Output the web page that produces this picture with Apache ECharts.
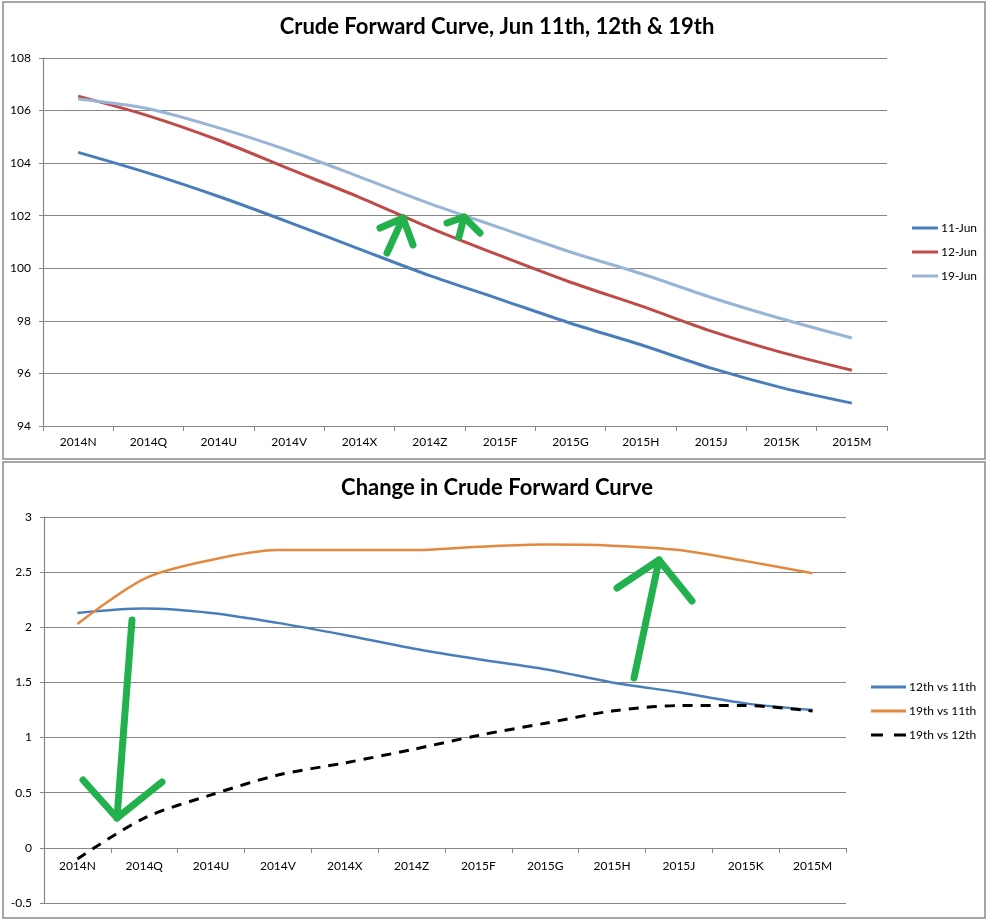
<!DOCTYPE html>
<html><head><meta charset="utf-8">
<script src="https://cdn.jsdelivr.net/npm/echarts@6/dist/echarts.min.js"></script>
<style>html,body{margin:0;padding:0;background:#fff}#c{width:990px;height:922px}</style>
</head><body><div id="c"></div>
<script>
var categories = ['2014N','2014Q','2014U','2014V','2014X','2014Z','2015F','2015G','2015H','2015J','2015K','2015M'];
var jun11 = [104.41,103.62,102.73,101.75,100.73,99.72,98.82,97.91,97.09,96.20,95.46,94.87];
var jun12 = [106.55,105.80,104.87,103.78,102.70,101.54,100.48,99.47,98.57,97.61,96.80,96.12];
var jun19 = [106.44,106.07,105.34,104.47,103.48,102.46,101.54,100.62,99.80,98.89,98.08,97.35];
var d12vs11 = [2.13,2.17,2.13,2.04,1.93,1.81,1.71,1.62,1.50,1.41,1.31,1.25];
var d19vs11 = [2.03,2.44,2.61,2.70,2.70,2.70,2.73,2.75,2.74,2.70,2.60,2.49];
var d19vs12 = [-0.10,0.27,0.48,0.66,0.77,0.89,1.02,1.13,1.24,1.29,1.29,1.24];
var topTicks = {min:94, max:108, interval:2};
var botTicks = {min:-0.5, max:3, interval:0.5};

var FONT = 'Lato';
var axisGrey = '#868686';
var labelStyle = {color:'#000', fontFamily:FONT, fontSize:12};

function xAx(gi, margin, offset){
  return {type:'category', gridIndex:gi, data:categories, boundaryGap:true,
    position:'bottom', offset:offset,
    axisLine:{show:true, onZero:false, lineStyle:{color:axisGrey, width:1.2}},
    axisTick:{show:true, length:5, inside:false, lineStyle:{color:axisGrey}},
    axisLabel:Object.assign({margin:margin, interval:0}, labelStyle),
    splitLine:{show:false}};
}
function yAx(gi, t){
  return {type:'value', gridIndex:gi, min:t.min, max:t.max, interval:t.interval,
    axisLine:{show:true, lineStyle:{color:axisGrey, width:1.2}},
    axisTick:{show:true, length:4, lineStyle:{color:axisGrey}},
    axisLabel:Object.assign({margin:12}, labelStyle),
    splitLine:{show:true, lineStyle:{color:axisGrey, width:1.2}}};
}
function ln(name, data, color, gi, width, type){
  return {name:name, type:'line', xAxisIndex:gi, yAxisIndex:gi, data:data,
    smooth:0.3, symbol:'none', animation:false,
    lineStyle:{color:color, width:width, type:type||'solid', dashOffset:0},
    itemStyle:{color:color}};
}
var green = '#22B14C';
function arrow(pts){
  return {type:'polyline', shape:{points:pts}, z:100,
    style:{stroke:green, lineWidth:7, fill:null, lineCap:'round', lineJoin:'round'}};
}
var solidIcon = 'rect';
var dashIcon = 'path://M0,0H12V3H0ZM23,0H35V3H23Z';

var chart = echarts.init(document.getElementById('c'), null, {renderer:'canvas'});
chart.setOption({
  animation:false,
  backgroundColor:'#fff',
  title:[
    {text:'Crude Forward Curve, Jun 11th, 12th & 19th', left:492, textAlign:'center', top:11,
     textStyle:{fontFamily:FONT, fontWeight:'bold', fontSize:22, color:'#000'}},
    {text:'Change in Crude Forward Curve', left:492, textAlign:'center', top:472,
     textStyle:{fontFamily:FONT, fontWeight:'bold', fontSize:22, color:'#000'}}
  ],
  legend:[
    {orient:'vertical', left:907, top:217, itemWidth:26, itemHeight:3, itemGap:12, symbolKeepAspect:false,
     data:[{name:'11-Jun', icon:solidIcon},{name:'12-Jun', icon:solidIcon},{name:'19-Jun', icon:solidIcon}],
     textStyle:{fontFamily:FONT, fontSize:12, color:'#000', padding:[0,0,0,-2]}},
    {orient:'vertical', left:866, top:676, itemWidth:35, itemHeight:3, itemGap:12, symbolKeepAspect:false,
     data:[{name:'12th vs 11th', icon:solidIcon},{name:'19th vs 11th', icon:solidIcon},{name:'19th vs 12th', icon:dashIcon}],
     textStyle:{fontFamily:FONT, fontSize:12, color:'#000', padding:[0,0,0,-2]}}
  ],
  grid:[
    {left:43, right:103, top:58, height:368, containLabel:false},
    {left:44, right:144, top:517, height:386, containLabel:false}
  ],
  xAxis:[xAx(0, 10, 0), xAx(1, 12, -386*0.5/3.5)],
  yAxis:[yAx(0, topTicks), yAx(1, botTicks)],
  series:[
    ln('11-Jun', jun11, '#4A7EBB', 0, 3),
    ln('12-Jun', jun12, '#BE4B48', 0, 3),
    ln('19-Jun', jun19, '#98B4D6', 0, 3),
    ln('12th vs 11th', d12vs11, '#4A7EBB', 1, 2.5),
    ln('19th vs 11th', d19vs11, '#E3893F', 1, 2.5),
    ln('19th vs 12th', d19vs12, '#000000', 1, 3, [10,8])
  ],
  graphic:[
    {type:'rect', shape:{x:3, y:2, width:982, height:457}, z:-10,
     style:{fill:'#fff', stroke:'#8a8a8a', lineWidth:1.5}},
    {type:'rect', shape:{x:3, y:462, width:982, height:456}, z:-10,
     style:{fill:'#fff', stroke:'#8a8a8a', lineWidth:1.5}},
    arrow([[387,253],[403,218]]),
    arrow([[380,228],[403,218],[413,245]]),
    arrow([[459,237],[464,217]]),
    arrow([[447,223],[464,217],[480,233]]),
    arrow([[132,620],[117,818]]),
    arrow([[83,780],[117,818],[162,782]]),
    arrow([[634,678],[659,560]]),
    arrow([[617,588],[659,560],[692,601]])
  ]
});
</script></body></html>
